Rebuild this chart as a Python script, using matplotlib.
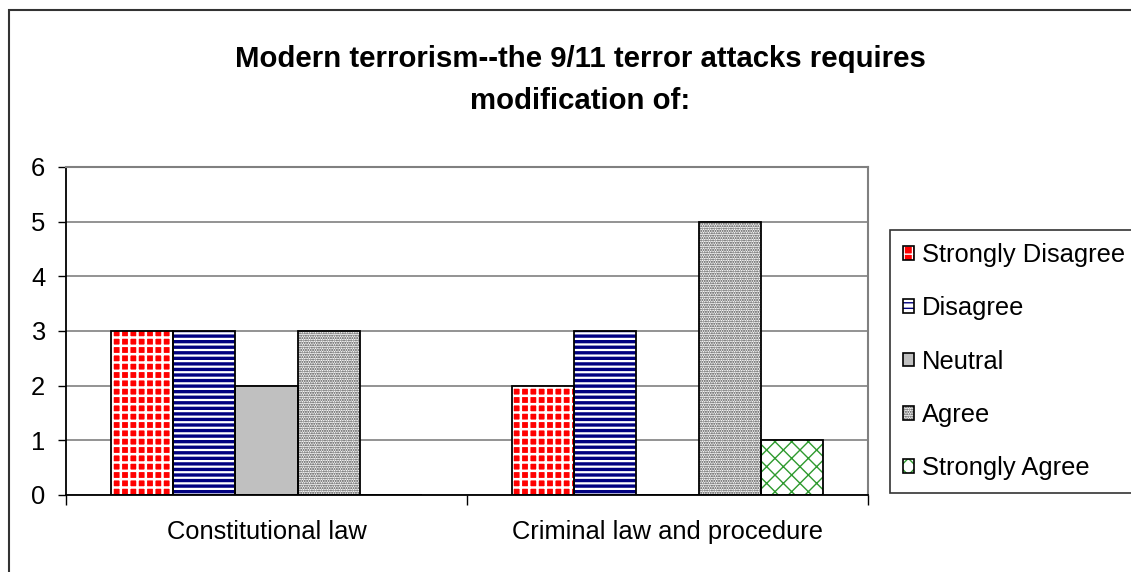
import matplotlib
matplotlib.use("Agg")
import matplotlib.pyplot as plt
from matplotlib.patches import Patch, Rectangle
import numpy as np

# data
categories = ["Constitutional law", "Criminal law and procedure"]
series = ["Strongly Disagree", "Disagree", "Neutral", "Agree", "Strongly Agree"]
strongly_disagree = [3, 2]
disagree = [3, 3]
neutral = [2, 0]
agree = [3, 5]
strongly_agree = [0, 1]
values = [strongly_disagree, disagree, neutral, agree, strongly_agree]

# face colour, hatch, hatch colour, hatch line width
styles = [
    ("#FF0000", "++", "white", 1.8),
    ("white", "---", "#000080", 2.4),
    ("#C0C0C0", "", "black", 1.0),
    ("white", ".......", "#404040", 1.0),
    ("white", "xx", "#2E9A2E", 1.0),
]

plt.rcParams["font.family"] = ["Liberation Sans", "DejaVu Sans"]

fig = plt.figure(figsize=(11.31, 5.72), dpi=100)
ax = fig.add_axes([66 / 1131, 1 - 495 / 572, (868 - 66) / 1131, (495 - 167) / 572])

x = np.arange(len(categories))
w = 0.155
for i, vals in enumerate(values):
    face, hatch, hcol, hlw = styles[i]
    pos = x + (i - 2) * w
    with plt.rc_context({"hatch.linewidth": hlw}):
        ax.bar(pos, vals, w, color=face, edgecolor=hcol, hatch=hatch, linewidth=0, zorder=2)
    ax.bar(pos, vals, w, fill=False, edgecolor="black", linewidth=1.3, zorder=3)

ax.set_xlim(-0.5, 1.5)
ax.set_ylim(0, 6)
ax.set_yticks(range(7))
ax.yaxis.grid(True, color="#808080", linewidth=1.2, zorder=0)
ax.set_axisbelow(True)

ax.set_xticks([-0.5, 0.5, 1.5])
ax.set_xticklabels([])
ax.set_xticks(x, minor=True)
ax.set_xticklabels(categories, minor=True)
ax.tick_params(axis="x", which="major", length=7, width=1, direction="out")
ax.tick_params(axis="x", which="minor", length=0, pad=18, labelsize=18.4)
ax.tick_params(axis="y", length=6, width=1, pad=9, labelsize=18.4)

for s in ["left", "bottom"]:
    ax.spines[s].set_color("black")
    ax.spines[s].set_linewidth(1.3)
for s in ["top", "right"]:
    ax.spines[s].set_color("#808080")
    ax.spines[s].set_linewidth(1.5)

fig.text(0.513, 1 - 80 / 572, "Modern terrorism--the 9/11 terror attacks requires\nmodification of:",
         ha="center", va="center", multialignment="center", fontsize=21.2, fontweight="bold",
         linespacing=1.65)

handles = []
for i, name in enumerate(series):
    face, hatch, hcol, hlw = styles[i]
    fill_part = Patch(facecolor=face, edgecolor=hcol, hatch=hatch, linewidth=0)
    edge_part = Patch(fill=False, edgecolor="black", linewidth=1.2)
    handles.append((fill_part, edge_part))
leg = fig.legend(handles=handles, labels=series, loc="upper left",
                 bbox_to_anchor=(890 / 1131, 1 - 230 / 572),
                 fontsize=18.4, frameon=True, fancybox=False, edgecolor="black",
                 handlelength=0.45, handleheight=0.45, handletextpad=0.3, labelspacing=1.15,
                 borderpad=0.5, borderaxespad=0)
leg.get_frame().set_linewidth(1.2)

# outer chart border (extends past the right and bottom of the picture)
fig.patches.append(Rectangle((9 / 1131, -0.2), 1.2, 1.2 - 10 / 572,
                             transform=fig.transFigure, fill=False, edgecolor="#333333",
                             linewidth=1.5))

fig.savefig("out.png", dpi=100)
